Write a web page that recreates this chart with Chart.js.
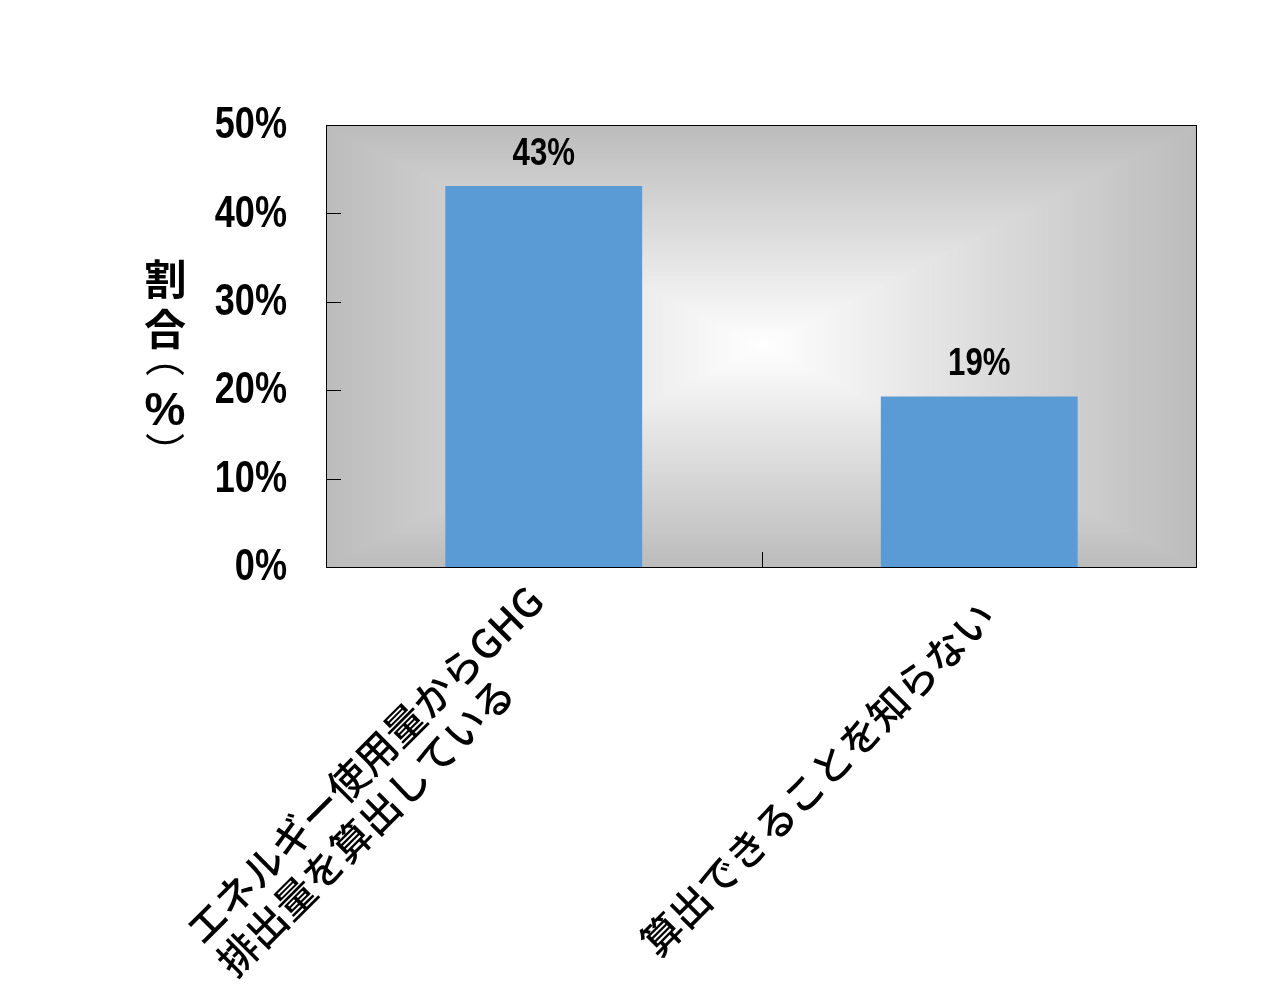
<!DOCTYPE html>
<html><head><meta charset="utf-8">
<script src="https://cdn.jsdelivr.net/npm/chart.js@4.4.1/dist/chart.umd.min.js"></script>
<style>html,body{margin:0;padding:0;background:#fff}#wrap{width:1271px;height:1008px;position:relative}</style>
</head><body><div id="wrap"><canvas id="c"></canvas></div>
<script>
// ---- data ----
const categories = [["エネルギー使用量からGHG", "排出量を算出している"], ["算出できることを知らない"]];
const values = [43.1, 19.3];
const valueLabels = ["43%", "19%"];
const yMin = 0, yMax = 50, yStep = 10;
const yTitleChars = ["割", "合", "（", "%", "）"];

const NUM_FONT = '"Liberation Sans", Arial, sans-serif';
const CJK_FONT = '"Noto Sans CJK JP", "Noto Sans", sans-serif';
const NARROW = 0.82;

const bgPlugin = {
  id: 'bg',
  beforeDatasetsDraw(chart) {
    const {ctx, chartArea: a} = chart;
    const cx = (a.left + a.right) / 2, cy = (a.top + a.bottom) / 2;
    const hw = (a.right - a.left) / 2, hh = (a.bottom - a.top) / 2;
    const N = 120;
    ctx.save();
    for (let i = N; i >= 1; i--) {
      const t = i / N;
      const c = Math.round(255 - 67 * t);
      ctx.fillStyle = `rgb(${c},${c},${c})`;
      ctx.fillRect(cx - hw * t, cy - hh * t, 2 * hw * t, 2 * hh * t);
    }
    ctx.restore();
  }
};

function narrowText(ctx, text, x, y, align, scale) {
  ctx.save();
  ctx.translate(x, y);
  ctx.scale(scale, 1);
  ctx.textAlign = align;
  ctx.fillText(text, 0, 0);
  ctx.restore();
}

// draw a glyph with its ink centred on the current origin
function inkCentred(ctx, ch) {
  ctx.textAlign = 'left';
  ctx.textBaseline = 'alphabetic';
  const m = ctx.measureText(ch);
  const cx = (m.actualBoundingBoxRight - m.actualBoundingBoxLeft) / 2;
  const cy = (m.actualBoundingBoxDescent - m.actualBoundingBoxAscent) / 2;
  ctx.fillText(ch, -cx, -cy);
}

const overlayPlugin = {
  id: 'overlay',
  afterDatasetsDraw(chart) {
    const {ctx, chartArea: a, scales} = chart;
    const xs = scales.x, ys = scales.y;
    ctx.save();
    // frame
    ctx.strokeStyle = '#000';
    ctx.lineWidth = 1;
    ctx.strokeRect(Math.round(a.left) + 0.5, Math.round(a.top) + 0.5, Math.round(a.right - a.left) - 1, Math.round(a.bottom - a.top));
    // inward y ticks
    ctx.beginPath();
    for (let v = yMin + yStep; v < yMax; v += yStep) {
      const y = Math.round(ys.getPixelForValue(v)) + 0.5;
      ctx.moveTo(a.left, y); ctx.lineTo(a.left + 15, y);
    }
    // category separator ticks
    for (let i = 0; i < categories.length - 1; i++) {
      const x = Math.round((xs.getPixelForValue(i) + xs.getPixelForValue(i + 1)) / 2) + 0.5;
      ctx.moveTo(x, a.bottom); ctx.lineTo(x, a.bottom - 15);
    }
    ctx.stroke();

    ctx.fillStyle = '#000';
    // y tick labels (narrow bold)
    ctx.font = `bold 44px ${NUM_FONT}`;
    ctx.textBaseline = 'middle';
    ys.ticks.forEach(tk => {
      narrowText(ctx, tk.value + '%', a.left - 39, ys.getPixelForValue(tk.value) + 1, 'right', NARROW);
    });

    // value labels
    const meta = chart.getDatasetMeta(0);
    ctx.font = `bold 39px ${NUM_FONT}`;
    ctx.textBaseline = 'alphabetic';
    meta.data.forEach((bar, i) => {
      narrowText(ctx, valueLabels[i], bar.x, bar.y - 21, 'center', 0.8);
    });

    // x category labels, rotated -45deg, lines left-aligned, block centred
    ctx.font = `500 40px ${CJK_FONT}`;
    const lh = 45;
    categories.forEach((lines, i) => {
      const arr = Array.isArray(lines) ? lines : [lines];
      const W = Math.max(...arr.map(s => ctx.measureText(s).width));
      const px = xs.getPixelForValue(i) + 8, py = a.bottom + 42;
      ctx.save();
      ctx.translate(px, py);
      ctx.rotate(-Math.PI / 4);
      ctx.textAlign = 'left';
      ctx.textBaseline = 'middle';
      arr.forEach((s, k) => {
        ctx.fillText(s, -W, (k - (arr.length - 1) / 2) * lh);
      });
      ctx.restore();
    });

    // y title, stacked vertically
    const tx = 165;
    const centres = [279, 329, 370, 409, 439];
    yTitleChars.forEach((ch, k) => {
      ctx.save();
      ctx.translate(tx, centres[k]);
      if (ch === '（' || ch === '）') {
        ctx.rotate(Math.PI / 2);
        ctx.font = `400 40px ${CJK_FONT}`;
        inkCentred(ctx, ch);
      } else if (ch === '%') {
        ctx.font = `bold 46px ${NUM_FONT}`;
        inkCentred(ctx, ch);
      } else {
        ctx.font = `bold 42px ${CJK_FONT}`;
        inkCentred(ctx, ch);
      }
      ctx.restore();
    });
    ctx.restore();
  }
};

new Chart(document.getElementById('c'), {
  type: 'bar',
  data: {
    labels: categories,
    datasets: [{
      data: values,
      backgroundColor: '#5B9BD5',
      borderWidth: 0,
      barPercentage: 0.452,
      categoryPercentage: 1
    }]
  },
  options: {
    responsive: true,
    maintainAspectRatio: false,
    devicePixelRatio: 1,
    animation: false,
    layout: {padding: {top: 125, right: 74, left: 0, bottom: 0}},
    plugins: {legend: {display: false}, tooltip: {enabled: false}, title: {display: false}},
    scales: {
      x: {
        grid: {display: false, drawTicks: false},
        border: {display: false},
        ticks: {display: false},
        afterFit(s) { s.height = 441; }
      },
      y: {
        min: yMin, max: yMax,
        grid: {display: false, drawTicks: false},
        border: {display: false},
        ticks: {display: false, stepSize: yStep},
        afterFit(s) { s.width = 326; }
      }
    }
  },
  plugins: [bgPlugin, overlayPlugin]
});
</script>
</body></html>
